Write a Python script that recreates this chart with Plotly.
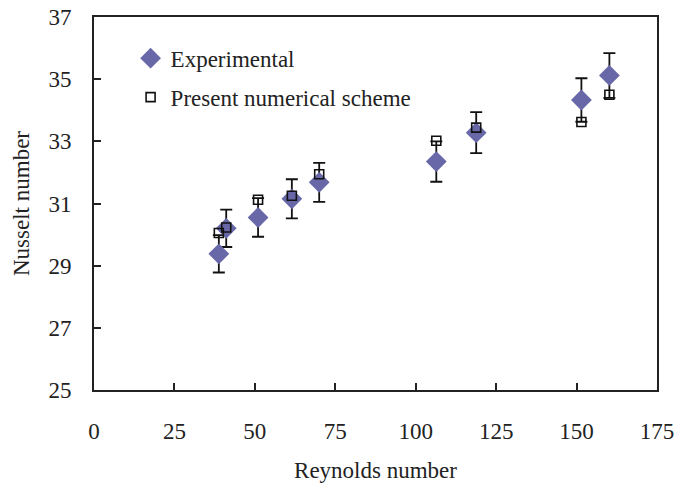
import plotly.graph_objects as go

reynolds = [38.8, 41.1, 51.0, 61.5, 70.0, 106.4, 118.8, 151.5, 160.2]
nu_experimental = [29.38, 30.2, 30.55, 31.15, 31.68, 32.35, 33.28, 34.33, 35.12]
nu_error = [0.6, 0.6, 0.62, 0.63, 0.63, 0.65, 0.66, 0.7, 0.72]
nu_numerical = [30.05, 30.23, 31.12, 31.25, 31.94, 33.02, 33.44, 33.62, 34.5]

x_ticks = [0, 25, 50, 75, 100, 125, 150, 175]
y_ticks = [25, 27, 29, 31, 33, 35, 37]

font_family = "Liberation Serif, Times New Roman, serif"

fig = go.Figure()
fig.add_trace(go.Scatter(
    x=reynolds, y=nu_experimental, mode="markers", name="Experimental",
    legendgroup="a",
    marker=dict(symbol="diamond", size=16, color="#6868a8", line=dict(width=0)),
    error_y=dict(type="data", array=nu_error, visible=True, color="#111111",
                 thickness=1.8, width=6),
))
fig.add_trace(go.Scatter(
    x=reynolds, y=nu_numerical, mode="markers", name="Present numerical scheme",
    legendgroup="b",
    marker=dict(symbol="square-open", size=9, color="#111111", line=dict(width=1.6)),
))

fig.update_layout(
    width=681, height=486,
    margin=dict(l=94, r=24, t=17, b=96),
    paper_bgcolor="white", plot_bgcolor="white",
    font=dict(family=font_family, size=23, color="#222222"),
    showlegend=True,
    legend=dict(x=0.065, y=0.947, xanchor="left", yanchor="top",
                bgcolor="rgba(0,0,0,0)", borderwidth=0,
                font=dict(size=23, family=font_family, color="#222222"),
                tracegroupgap=6, traceorder="grouped", itemwidth=30),
    xaxis=dict(range=[0, 175], tickvals=x_ticks, ticks="inside", ticklen=7,
               tickwidth=1.5, tickcolor="#222222", automargin=False,
               showline=True, linecolor="#222222", linewidth=2, mirror=True,
               showgrid=False, zeroline=False, ticklabelstandoff=19,
               title=dict(text="Reynolds number", standoff=19,
                          font=dict(size=23, family=font_family))),
    yaxis=dict(range=[25, 37], tickvals=y_ticks, ticks="inside", ticklen=7,
               tickwidth=1.5, tickcolor="#222222", automargin=False,
               showline=True, linecolor="#222222", linewidth=2, mirror=True,
               showgrid=False, zeroline=False, ticklabelstandoff=16,
               title=dict(text="Nusselt number", standoff=12,
                          font=dict(size=23, family=font_family))),
)

fig.write_html("out.html", config={"displayModeBar": False},
               post_script="document.body.style.margin='0px';document.body.style.overflow='hidden';")
